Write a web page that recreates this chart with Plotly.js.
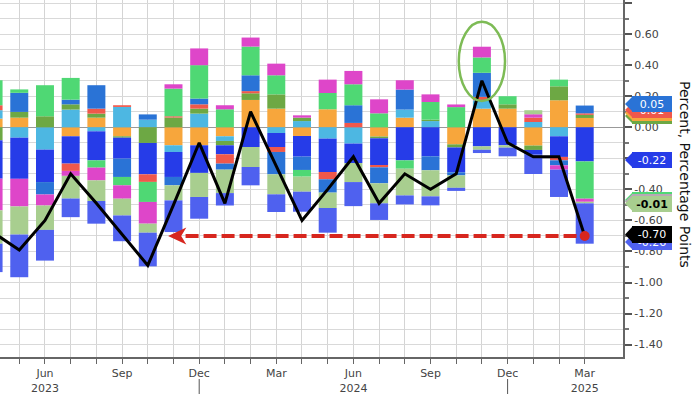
<!DOCTYPE html>
<html><head><meta charset="utf-8">
<script src="https://cdn.plot.ly/plotly-3.0.1.min.js"></script>
<style>html,body{margin:0;padding:0;background:#fff}#chart{width:700px;height:394px}</style>
</head><body><div id="chart"></div>
<script>
const months = ["Apr 2023","May 2023","Jun 2023","Jul 2023","Aug 2023","Sep 2023","Oct 2023","Nov 2023","Dec 2023","Jan 2024","Feb 2024","Mar 2024","Apr 2024","May 2024","Jun 2024","Jul 2024","Aug 2024","Sep 2024","Oct 2024","Nov 2024","Dec 2024","Jan 2025","Feb 2025","Mar 2025"];
const xTickText = ["","","Jun<br>2023","","","Sep","","","Dec","","","Mar","","","Jun<br>2024","","","Sep","","","Dec","","","Mar<br>2025"];
const yTickVals = [-1.4,-1.2,-1.0,-0.8,-0.6,-0.4,-0.2,0,0.2,0.4,0.6,0.8];
const yTickText = ["-1.40","-1.20","-1.00","-0.80","-0.60","-0.40","-0.20","0.00","0.20","0.40","0.60","0.80"];

const orange  = [0.056,0.062,0,-0.058,0.062,-0.058,0,-0.116,-0.116,-0.058,0.176,0.120,-0.056,0.116,0,-0.060,0.062,0,-0.110,0.120,0.120,-0.118,0.174,0.06];
const cyan    = [0.054,-0.067,-0.144,0.114,-0.026,0.131,0.049,-0.043,0.088,-0.030,0,-0.037,0.040,-0.073,-0.105,0,0.052,0.040,0,0.054,0,0.034,-0.058,0];
const olive   = [-0.084,0.037,0.071,0.034,0.026,-0.009,-0.101,0.063,0.032,-0.028,0.043,0.092,0.022,0,0,-0.011,0,0.009,-0.020,0,0.028,-0.028,0.090,0.02];
const royal   = [-0.247,-0.265,-0.209,-0.176,-0.187,-0.135,-0.202,-0.161,-0.178,-0.058,-0.127,-0.090,-0.133,-0.215,-0.125,-0.172,-0.213,-0.187,-0.160,-0.123,-0.116,-0.030,-0.133,-0.22];
const red     = [0.032,0,0,-0.047,0.032,0.011,-0.049,0.008,0.028,-0.060,0.014,-0.032,0,-0.047,0.028,-0.015,0,0,0,0.022,0,0.028,-0.022,0.01];
const medBlue = [0,0.123,-0.080,0.030,0.151,-0.118,0.034,-0.054,0.037,-0.039,0.102,-0.144,-0.086,-0.086,0.114,-0.103,0.129,-0.090,-0.020,0.155,0,0,-0.032,0.05];
const green   = [0.161,0.022,0.200,0.140,-0.047,-0.054,-0.129,0.178,0.215,0.116,0.185,0.123,-0.043,0.105,0.135,0.090,-0.054,0.114,0.130,0.099,0.052,0,0.043,-0.24];
const magenta = [-0.204,-0.178,-0.071,-0.032,-0.082,-0.086,-0.140,0.028,0.108,0.026,0.058,0.075,0.015,0.086,0.086,0.090,0.060,0.049,0.017,0.069,0,0.022,-0.028,-0.02];
const sage    = [-0.215,-0.181,-0.157,-0.146,-0.133,-0.108,-0.058,-0.097,-0.155,-0.151,-0.129,-0.129,-0.097,-0.099,-0.123,-0.129,-0.172,-0.168,-0.080,-0.022,-0.015,0.026,0,-0.01];
const peri    = [-0.183,-0.275,-0.198,-0.120,-0.146,-0.166,-0.217,-0.204,-0.140,-0.080,-0.118,-0.114,-0.129,-0.159,-0.155,-0.107,-0.058,-0.058,-0.020,-0.021,-0.056,-0.125,-0.176,-0.26];
const total   = [-0.68,-0.79,-0.60,-0.30,-0.49,-0.69,-0.89,-0.50,-0.10,-0.49,0.10,-0.25,-0.60,-0.40,-0.19,-0.49,-0.30,-0.40,-0.30,0.30,-0.10,-0.19,-0.19,-0.70];

const C = {orange:'#f7a63c', cyan:'#4db7e2', olive:'#6da844', royal:'#263ce8', red:'#f0584b',
  medBlue:'#2a73d6', green:'#4fd874', magenta:'#de46c9', sage:'#a8ce8f', peri:'#4f61ef'};

const series = [
  ['orange',orange],['cyan',cyan],['olive',olive],['royal',royal],['red',red],
  ['medBlue',medBlue],['green',green],['magenta',magenta],['sage',sage],['peri',peri]
];
const traces = series.map(([k,v]) => ({
  type:'bar', x:months, y:v, name:k, marker:{color:C[k], line:{width:0}}, hoverinfo:'skip'
}));
traces.push({type:'scatter', mode:'lines', x:months, y:total, line:{color:'#000', width:3}, hoverinfo:'skip'});
const last = months.length - 1;
traces.push({type:'scatter', mode:'markers', x:[months[last]], y:[total[last]], marker:{color:'#d7261e', size:10}, hoverinfo:'skip'});

// pixel helpers for layout positions (plot area 623 x 357)
const PW = 623, PH = 357;
const px = v => v / PW, py = v => 1 - v / PH;
const fmt = v => v.toFixed(2);

const shapes = [];
const annotations = [];
function tag(top, h, color, text, textColor, bold) {
  const mid = top + h/2;
  shapes.push({type:'path', xref:'paper', yref:'paper', fillcolor:color, line:{width:0}, layer:'above',
    path:`M ${px(625)},${py(mid)} L ${px(633)},${py(top)} L ${px(633)},${py(top+h)} Z`});
  annotations.push({xref:'paper', yref:'paper', x:px(632), y:py(top), xanchor:'left', yanchor:'top',
    width:40, height:h, borderpad:0, borderwidth:0, bgcolor:color, showarrow:false, align:'center', valign:'middle',
    text: text === '' ? ' ' : (bold ? '<b>'+text+'</b>' : text), font:{family:'DejaVu Sans', size:11, color:textColor}});
}

// red dashed arrow at latest total
const yT = total[last];
shapes.push({type:'line', xref:'x', yref:'y', x0:7.47, x1:last, y0:yT, y1:yT, layer:'above',
  line:{color:'#d7261e', width:4, dash:'13px,5px'}});
shapes.push({type:'path', xref:'x', yref:'y', fillcolor:'#d7261e', line:{width:0}, layer:'above',
  path:`M 6.79,${yT} L 7.5,${yT+0.055} L 7.3,${yT} L 7.5,${yT-0.055} Z`});
// green ellipse around Nov 2024
const iNov = months.indexOf('Nov 2024');
shapes.push({type:'circle', xref:'x', yref:'y', x0:iNov-0.9, x1:iNov+0.9, y0:0.17, y1:0.68, layer:'above',
  line:{color:'#7dbb55', width:2.5}});
// year separators
['Dec 2023','Dec 2024'].forEach(m => shapes.push({type:'line', xref:'x', yref:'paper', x0:m, x1:m,
  y0:py(379), y1:py(394), line:{color:'#555', width:1}}));

// value tags (lower ones partly hidden behind the upper ones)
tag(108, 16, C.olive, '', '#fff');
tag(105, 16, C.orange, '', '#fff');
tag(102, 16, C.red, fmt(red[last]), '#fff');
tag(96, 16, C.medBlue, fmt(medBlue[last]), '#fff');
tag(152, 16, C.royal, fmt(royal[last]), '#fff');
tag(192, 16, C.green, '', '#fff');
tag(193.5, 16, '#b9a7b5', '', '#fff');
tag(195.5, 16, C.sage, fmt(sage[last]), '#000', true);
tag(234, 16, C.peri, fmt(peri[last]), '#fff');
tag(226, 17, '#000', fmt(total[last]), '#fff');

annotations.push({xref:'paper', yref:'paper', x:px(685), y:py(174), xanchor:'center', yanchor:'middle',
  textangle:90, showarrow:false, text:'Percent, Percentage Points',
  font:{family:'DejaVu Sans', size:14, color:'#111'}});

const layout = {
  width:700, height:394, margin:{l:0, r:77, t:0, b:37},
  paper_bgcolor:'#fff', plot_bgcolor:'#fff',
  barmode:'relative', bargap:0.3, showlegend:false,
  font:{family:'DejaVu Sans', size:11, color:'#444'},
  xaxis:{type:'category', range:[0.25, 24.49], tickmode:'array', tickvals:months, ticktext:xTickText,
    ticks:'outside', ticklen:5, tickcolor:'#666', tickwidth:1,
    showgrid:true, gridcolor:'#d4d4d4', gridwidth:1,
    showline:true, linecolor:'#666', linewidth:2, zeroline:false,
    tickfont:{family:'DejaVu Sans', size:11, color:'#444'}},
  yaxis:{side:'right', range:[-1.48, 0.82], tickmode:'array', tickvals:yTickVals, ticktext:yTickText,
    ticks:'outside', ticklen:7, tickwidth:2, tickcolor:'#555',
    showgrid:true, gridcolor:'#d9d9d9', gridwidth:1,
    minor:{dtick:0.1, tick0:0, ticks:'outside', ticklen:4, tickcolor:'#777', showgrid:true, gridcolor:'#d9d9d9', gridwidth:1},
    zeroline:true, zerolinecolor:'#999', zerolinewidth:1.5,
    showline:true, linecolor:'#666', linewidth:2,
    tickfont:{family:'DejaVu Sans', size:11, color:'#444'}},
  shapes:shapes, annotations:annotations
};
Plotly.newPlot('chart', traces, layout, {staticPlot:true, displayModeBar:false});
</script></body></html>
